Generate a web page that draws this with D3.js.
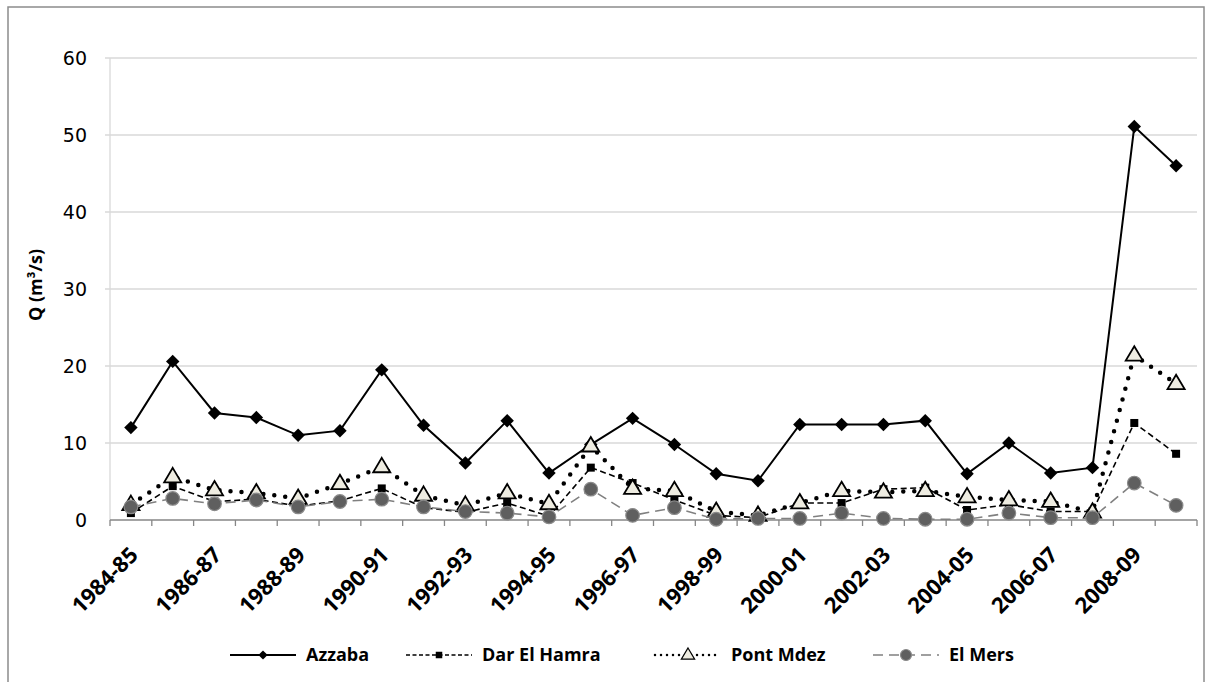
<!DOCTYPE html>
<html><head><meta charset="utf-8">
<script src="https://cdn.jsdelivr.net/npm/d3@7"></script>
<style>body{margin:0;background:#fff}svg{display:block}</style>
</head><body>
<script>
const categories = ["1984-85","1985-86","1986-87","1987-88","1988-89","1989-90","1990-91","1991-92","1992-93","1993-94","1994-95","1995-96","1996-97","1997-98","1998-99","1999-00","2000-01","2001-02","2002-03","2003-04","2004-05","2005-06","2006-07","2007-08","2008-09","2009-10"];
const azzaba = [12,20.6,13.9,13.3,11.0,11.6,19.5,12.3,7.4,12.9,6.1,9.8,13.2,9.8,6.0,5.1,12.4,12.4,12.4,12.9,6.0,10.0,6.1,6.8,51.1,46.0];
const darElHamra = [0.9,4.4,2.4,2.7,1.8,2.5,4.1,1.6,1.0,2.2,0.5,6.8,4.8,2.6,0.6,0.3,2.2,2.2,4.0,4.2,1.3,2.0,1.1,1.1,12.6,8.6];
const pontMdez = [2.0,5.6,3.9,3.5,2.8,4.7,6.9,3.2,1.9,3.5,2.1,9.6,4.1,3.8,1.1,0.6,2.2,3.8,3.6,3.8,3.0,2.6,2.4,1.0,21.4,17.7];
const elMers = [1.7,2.8,2.1,2.6,1.7,2.4,2.7,1.7,1.1,0.9,0.4,4.0,0.6,1.6,0.1,0.2,0.2,0.9,0.2,0.1,0.1,0.9,0.3,0.3,4.8,1.9];
const yTicks = [0,10,20,30,40,50,60];
const yTitle = "Q (m³/s)";

const W = 1206, H = 682;
const svg = d3.select("body").append("svg").attr("width", W).attr("height", H);
svg.append("rect").attr("x",8).attr("y",7).attr("width",1196).attr("height",700)
  .attr("fill","#fff").attr("stroke","#8c8c8c").attr("stroke-width",1.5);

const x0 = 110, x1 = 1197, y0 = 520, y1 = 58;
const x = d3.scaleBand().domain(categories).range([x0, x1]);
const y = d3.scaleLinear().domain([0, 60]).range([y0, y1]);
const cx = c => x(c) + x.bandwidth()/2;

// gridlines
svg.append("g").selectAll("line").data(yTicks.filter(d=>d>0)).join("line")
  .attr("x1", x0-5).attr("x2", x1).attr("y1", d=>y(d)).attr("y2", d=>y(d))
  .attr("stroke","#d9d9d9").attr("stroke-width",1.3);
svg.append("line").attr("x1",x0).attr("x2",x0).attr("y1",y1).attr("y2",y0).attr("stroke","#d9d9d9").attr("stroke-width",1.3);
svg.append("g").selectAll("text").data(yTicks).join("text")
  .attr("x", 87).attr("y", d=>y(d)).attr("dy","0.36em").attr("text-anchor","end")
  .attr("font-family","DejaVu Sans").attr("font-size",19).attr("fill","#000").text(d=>d);
svg.append("text").attr("transform","translate(42,285) rotate(-90)").attr("text-anchor","middle")
  .attr("font-family","Open Sans").attr("font-weight","bold").attr("font-size",18).text(yTitle);

// x axis
svg.append("line").attr("x1",x0).attr("x2",x1).attr("y1",y0).attr("y2",y0).attr("stroke","#868686").attr("stroke-width",1.5);
const bounds = categories.map(c=>x(c)).concat([x1]);
svg.append("g").selectAll("line").data(bounds).join("line")
  .attr("x1",d=>d).attr("x2",d=>d).attr("y1",y0).attr("y2",y0+6).attr("stroke","#868686").attr("stroke-width",1.3);
svg.append("g").selectAll("text").data(categories.filter((c,i)=>i%2===0)).join("text")
  .attr("transform", c=>`translate(${cx(c)+3},${y0+31}) rotate(-45)`)
  .attr("text-anchor","end").attr("dy","0.35em")
  .attr("font-family","Open Sans").attr("font-weight","bold").attr("font-size",22).text(c=>c);

const series = [
  {name:"Azzaba", values:azzaba, stroke:"#000", width:2, dash:null, cap:"butt", marker:"diamond"},
  {name:"Dar El Hamra", values:darElHamra, stroke:"#000", width:1.6, dash:"6,3.5", cap:"butt", marker:"square"},
  {name:"Pont Mdez", values:pontMdez, stroke:"#000", width:4.5, dash:"0,11", cap:"round", marker:"triangle"},
  {name:"El Mers", values:elMers, stroke:"#808080", width:1.6, dash:"10,6", cap:"butt", marker:"circle"}
];
const line = d3.line().x((d,i)=>cx(categories[i])).y(d=>y(d));

function drawMarker(g, type, px, py, legend){
  if(type==="diamond"){
    const s = legend?6.5:9.5;
    g.append("rect").attr("x",-s/2).attr("y",-s/2).attr("width",s).attr("height",s)
      .attr("transform",`translate(${px},${py}) rotate(45)`).attr("fill","#000");
  } else if(type==="square"){
    const s = legend?6.5:8;
    g.append("rect").attr("x",px-s/2).attr("y",py-s/2).attr("width",s).attr("height",s).attr("fill","#000");
  } else if(type==="triangle"){
    const s = legend?7:9;
    g.append("path").attr("d",`M${px},${py-s}L${px+s*0.95},${py+s*0.6}L${px-s*0.95},${py+s*0.6}Z`)
      .attr("fill","#eeece1").attr("stroke","#000").attr("stroke-width",legend?1.2:1.8);
  } else {
    g.append("circle").attr("cx",px).attr("cy",py).attr("r",legend?5.5:6.8).attr("fill","#5f5f5f").attr("stroke","#8a8a8a").attr("stroke-width",1.2);
  }
}

series.forEach(s=>{
  const g = svg.append("g");
  g.append("path").datum(s.values).attr("d", line).attr("fill","none")
    .attr("stroke", s.stroke).attr("stroke-width", s.width).attr("stroke-dasharray", s.dash).attr("stroke-linecap", s.cap);
  s.values.forEach((v,i)=>drawMarker(g, s.marker, cx(categories[i]), y(v), false));
});

// legend
const legX = [230, 406, 655, 873];
const legY = 655;
series.forEach((s,i)=>{
  const g = svg.append("g");
  const lx = legX[i];
  g.append("line").attr("x1",lx).attr("x2",lx+66).attr("y1",legY).attr("y2",legY)
    .attr("stroke",s.stroke).attr("stroke-width", s.marker==="triangle"?2.5:(s.width>1.8?2:1.5))
    .attr("stroke-dasharray", s.marker==="triangle"?"0,6":(s.marker==="square"?"4,2.5":s.dash))
    .attr("stroke-linecap", s.cap);
  drawMarker(g, s.marker, lx+33, legY, true);
  g.append("text").attr("x", lx+76).attr("y", legY).attr("dy","0.35em")
    .attr("font-family","Open Sans").attr("font-weight","bold").attr("font-size",18).text(s.name);
});
</script>
</body></html>
